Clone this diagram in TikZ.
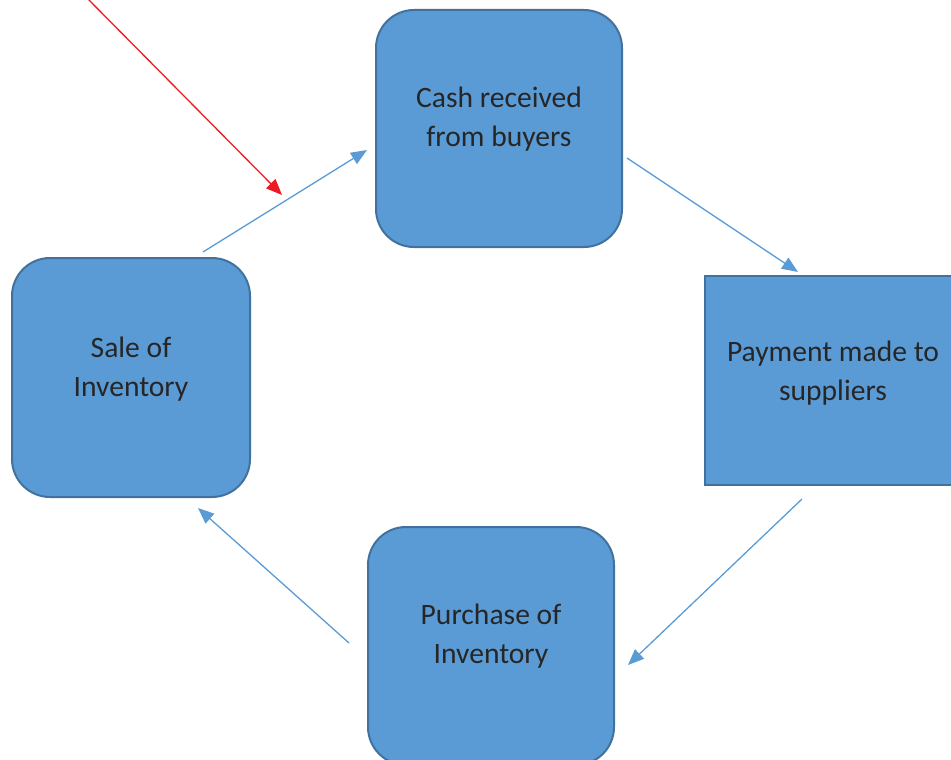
\documentclass[tikz,border=0pt]{standalone}
\usepackage{fontspec}
\setmainfont{Carlito}
\usetikzlibrary{arrows.meta}
\definecolor{boxfill}{HTML}{5B9BD5}
\definecolor{boxline}{HTML}{41719C}
\definecolor{flowline}{HTML}{5B9BD5}
\definecolor{alertred}{HTML}{ED1C24}
\definecolor{ink}{HTML}{262626}

\begin{document}
\begin{tikzpicture}[x=1pt,y=-1pt,
  stage/.style={draw=boxline, fill=boxfill, line width=2pt, rounded corners=38pt,
    inner sep=0pt, minimum width=246pt, minimum height=237pt},
  squarestage/.style={draw=boxline, fill=boxfill, line width=2pt, inner sep=0pt},
  caption/.style={text=ink, align=center, font=\fontsize{29.6}{39}\selectfont},
  flow/.style={draw=flowline, line width=1.3pt, -{Triangle[length=16pt,width=13pt]}},
  pointer/.style={draw=alertred, line width=1.3pt, -{Triangle[length=16pt,width=13pt]}}]

\useasboundingbox (0,0) rectangle (951,760);
\clip (0,0) rectangle (951,760);

% the four stages of the cycle
\node[stage] (cash) at (499,128.5) {};
\node[stage, minimum width=238pt, minimum height=239pt] (sale) at (131,377.5) {};
\node[squarestage, minimum width=256pt, minimum height=209pt] (pay) at (833,380.5) {};
\node[stage, minimum height=238pt] (purchase) at (491,646) {};

\node[caption] (cashtext) at ([yshift=9pt]cash.center) {Cash received\\from buyers};
\node[caption] (saletext) at ([yshift=8pt]sale.center) {Sale of\\Inventory};
\node[caption] (paytext) at ([yshift=7pt]pay.center) {Payment made to\\suppliers};
\node[caption] (purchasetext) at ([yshift=9.5pt]purchase.center) {Purchase of\\Inventory};

% connectors going round the cycle
\draw[flow] ([shift={(-48,-5)}]sale.north east) -- ([shift={(-8,21.5)}]cash.west);
\draw[flow] ([shift={(4,29.5)}]cash.east) -- ([shift={(94,-3)}]pay.north west);
\draw[flow] ([shift={(98,13)}]pay.south west) -- ([shift={(13,19)}]purchase.east);
\draw[flow] ([shift={(-18,-3)}]purchase.west) -- ([shift={(-53,10)}]sale.south east);

% red pointer onto the first connector
\coordinate (pointfrom) at (85,-4);
\coordinate (pointto) at (282,195);
\draw[pointer] (pointfrom) -- (pointto);
\end{tikzpicture}
\end{document}
